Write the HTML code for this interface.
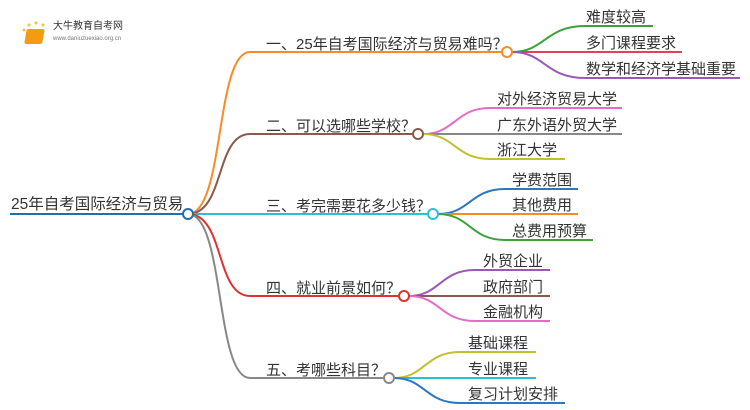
<!DOCTYPE html><html><head><meta charset="utf-8"><style>body{margin:0;background:#fff}svg{display:block}text{font-family:"Liberation Sans","Noto Sans CJK SC",sans-serif;font-size:15px;fill:#333}.q{font-family:"Noto Sans CJK SC",sans-serif}</style></head><body>
<svg width="750" height="410" viewBox="0 0 750 410" fill="none" stroke-width="2">
<g transform="translate(20,22)">
<circle cx="4" cy="8" r="1.5" fill="#f7c23a" stroke="none"/><circle cx="9" cy="3" r="1.5" fill="#f7c23a" stroke="none"/><circle cx="16" cy="1" r="1.5" fill="#f7c23a" stroke="none"/><circle cx="23" cy="3" r="1.5" fill="#f7c23a" stroke="none"/>
<rect x="8" y="7" width="18" height="15" rx="2" fill="#f39c12" stroke="none" transform="skewX(-10)"/>
</g>
<text x="53" y="29" style="font-size:10px;fill:#333">大牛教育自考网</text>
<text x="53" y="40" style="font-size:6px;fill:#777">www.daniuzuexiao.org.cn</text>
<path d="M10 214H188" stroke="#1e6fb0"/>
<text x="11" y="209" style="font-size:15.5px">25年自考国际经济与贸易</text>
<path d="M188 214C225 214 215 52 250 52H502" stroke="#f88b27"/>
<path d="M188 214C225 214 215 134 250 134H413" stroke="#8a5a4a"/>
<path d="M193 214H428" stroke="#2bbfd4"/>
<path d="M188 214C225 214 215 296 250 296H399" stroke="#e03030"/>
<path d="M188 214C225 214 215 378 250 378H384" stroke="#888"/>
<circle cx="188" cy="214" r="5" fill="#fff" stroke="#1e6fb0"/>
<text x="266" y="49">一、25年自考国际经济与贸易难吗<tspan class="q">？</tspan></text>
<text x="266" y="131">二、可以选哪些学校<tspan class="q">？</tspan></text>
<text x="266" y="211">三、考完需要花多少钱<tspan class="q">？</tspan></text>
<text x="266" y="293">四、就业前景如何<tspan class="q">？</tspan></text>
<text x="266" y="375">五、考哪些科目<tspan class="q">？</tspan></text>
<path d="M512 52C545 52 545 26 585 26H653" stroke="#3aa33a"/>
<path d="M512 52H682" stroke="#e0405a"/>
<path d="M512 52C545 52 545 78 585 78H740" stroke="#9b59b6"/>
<circle cx="507" cy="52" r="5" fill="#fff" stroke="#f88b27"/>
<text x="586" y="22">难度较高</text><text x="586" y="48">多门课程要求</text><text x="586" y="74">数学和经济学基础重要</text>
<path d="M423 134C455 134 455 108 490 108H622" stroke="#e86ac8"/>
<path d="M423 134H622" stroke="#888"/>
<path d="M423 134C455 134 455 159 490 159H565" stroke="#c0c030"/>
<circle cx="418" cy="134" r="5" fill="#fff" stroke="#8a5a4a"/>
<text x="497" y="104">对外经济贸易大学</text><text x="497" y="130">广东外语外贸大学</text><text x="497" y="155">浙江大学</text>
<path d="M438 214C470 214 470 189 505 189H578" stroke="#2a78c0"/>
<path d="M438 214H578" stroke="#f88b27"/>
<path d="M438 214C470 214 470 240 505 240H593" stroke="#3aa33a"/>
<circle cx="433" cy="214" r="5" fill="#fff" stroke="#2bbfd4"/>
<text x="512" y="185">学费范围</text><text x="512" y="210">其他费用</text><text x="512" y="236">总费用预算</text>
<path d="M409 296C440 296 440 270 475 270H550" stroke="#9b59b6"/>
<path d="M409 296H550" stroke="#8a5a4a"/>
<path d="M409 296C440 296 440 321 475 321H550" stroke="#e86ac8"/>
<circle cx="404" cy="296" r="5" fill="#fff" stroke="#e03030"/>
<text x="483" y="266">外贸企业</text><text x="483" y="292">政府部门</text><text x="483" y="317">金融机构</text>
<path d="M394 378C425 378 425 352 460 352H536" stroke="#c0c030"/>
<path d="M394 378H536" stroke="#2bbfd4"/>
<path d="M394 378C425 378 425 403 460 403H565" stroke="#2a78c0"/>
<circle cx="389" cy="378" r="5" fill="#fff" stroke="#888"/>
<text x="468" y="348">基础课程</text><text x="468" y="374">专业课程</text><text x="468" y="399">复习计划安排</text>
</svg></body></html>
